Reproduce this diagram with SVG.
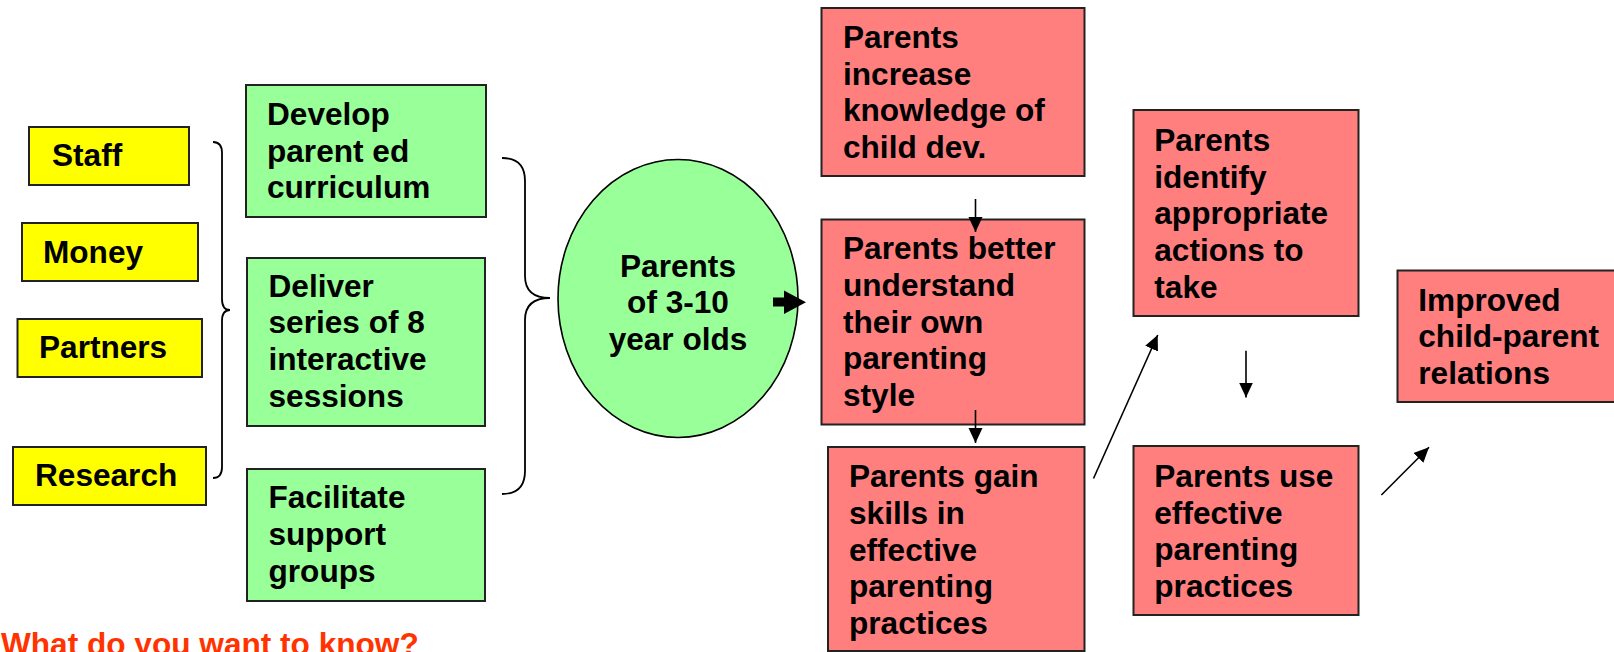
<svg xmlns="http://www.w3.org/2000/svg" width="1614" height="652" viewBox="0 0 1614 652">
<style>
.t{font-family:"Liberation Sans",Arial,sans-serif;font-weight:bold;font-size:31.6px;fill:#000}
.y{fill:#FFFF00;stroke:#222;stroke-width:2}
.g{fill:#99FF99;stroke:#222;stroke-width:2}
.r{fill:#FF7F7F;stroke:#222;stroke-width:2}
.ln{fill:none;stroke:#000;stroke-width:1.6}
.br{fill:none;stroke:#000;stroke-width:1.8}
</style>
<defs>
<marker id="ah" markerUnits="userSpaceOnUse" markerWidth="16" markerHeight="16" viewBox="0 0 16 14" refX="15" refY="7" orient="auto">
<path d="M0,0 L15,7 L0,14 Z" fill="#000"/>
</marker>
</defs>
<rect width="1614" height="652" fill="#fff"/>

<g id="staff"><rect class="y" x="29" y="127" width="160" height="58"/><text class="t" x="52" y="166">Staff</text></g>
<g id="money"><rect class="y" x="22" y="223" width="176" height="58"/><text class="t" x="43" y="263">Money</text></g>
<g id="partners"><rect class="y" x="17.5" y="319" width="184.5" height="58"/><text class="t" x="39" y="358">Partners</text></g>
<g id="research"><rect class="y" x="13" y="447" width="193" height="58"/><text class="t" x="35" y="486">Research</text></g>

<g id="develop"><rect class="g" x="246" y="85" width="240" height="132"/><text class="t" x="267" y="125">Develop<tspan x="267" y="161.7">parent ed</tspan><tspan x="267" y="198.3">curriculum</tspan></text></g>
<g id="deliver"><rect class="g" x="247" y="258" width="238" height="168"/><text class="t" x="268.5" y="296.7">Deliver<tspan x="268.5" y="333.3">series of 8</tspan><tspan x="268.5" y="370">interactive</tspan><tspan x="268.5" y="406.7">sessions</tspan></text></g>
<g id="facilitate"><rect class="g" x="247" y="469" width="238" height="132"/><text class="t" x="268.5" y="508.3">Facilitate<tspan x="268.5" y="545">support</tspan><tspan x="268.5" y="581.7">groups</tspan></text></g>

<g id="parents"><ellipse cx="678" cy="298.5" rx="120" ry="139" fill="#99FF99" stroke="#000" stroke-width="1.6"/><text class="t" text-anchor="middle" x="678" y="276.7">Parents<tspan x="678" y="313.3">of 3-10</tspan><tspan x="678" y="349.5">year olds</tspan></text></g>

<g id="knowledge"><rect class="r" x="821.5" y="8" width="263" height="168"/><text class="t" x="843" y="48.3">Parents<tspan x="843" y="84.5">increase</tspan><tspan x="843" y="121">knowledge of</tspan><tspan x="843" y="157.5">child dev.</tspan></text></g>
<g id="understand"><rect class="r" x="821.5" y="219.5" width="263" height="205"/><text class="t" x="843" y="259.3">Parents better<tspan x="843" y="296">understand</tspan><tspan x="843" y="332.7">their own</tspan><tspan x="843" y="369.3">parenting</tspan><tspan x="843" y="406">style</tspan></text></g>
<g id="skills"><rect class="r" x="828" y="447" width="256.5" height="204"/><text class="t" x="849" y="487.3">Parents gain<tspan x="849" y="524">skills in</tspan><tspan x="849" y="560.7">effective</tspan><tspan x="849" y="597.3">parenting</tspan><tspan x="849" y="634">practices</tspan></text></g>
<g id="identify"><rect class="r" x="1133.5" y="110" width="225" height="206"/><text class="t" x="1154.3" y="151">Parents<tspan x="1154.3" y="187.7">identify</tspan><tspan x="1154.3" y="224.3">appropriate</tspan><tspan x="1154.3" y="261">actions to</tspan><tspan x="1154.3" y="297.7">take</tspan></text></g>
<g id="use"><rect class="r" x="1133.5" y="446" width="225" height="169"/><text class="t" x="1154.3" y="487">Parents use<tspan x="1154.3" y="523.7">effective</tspan><tspan x="1154.3" y="560.3">parenting</tspan><tspan x="1154.3" y="597">practices</tspan></text></g>
<g id="improved"><rect class="r" x="1397.5" y="270.5" width="220" height="131.5"/><text class="t" x="1418.3" y="310.5">Improved<tspan x="1418.3" y="347.2">child-parent</tspan><tspan x="1418.3" y="383.9">relations</tspan></text></g>

<g id="question"><text class="t" x="1" y="654.5" style="fill:#FF3300">What do you want to know?</text></g>

<g id="connectors">
<path class="br" d="M213,142 Q222,142 222,153 L222,299 Q222,310 230,310 Q222,310 222,321 L222,467 Q222,478 213,478"/>
<path class="br" d="M502,158 Q525,158 525,181 L525,276 Q525,298 550,298 Q525,298 525,320 L525,471 Q525,494 502,494"/>
<path d="M773,297.5 L784,297.5 L784,290.5 L806,302.3 L784,314 L784,306.5 L773,306.5 Z" fill="#000"/>
<line class="ln" x1="975.5" y1="199" x2="975.5" y2="232" marker-end="url(#ah)"/>
<line class="ln" x1="975.5" y1="410" x2="975.5" y2="443" marker-end="url(#ah)"/>
<line class="ln" x1="1093.5" y1="478.5" x2="1157.7" y2="335" marker-end="url(#ah)"/>
<line class="ln" x1="1246" y1="350.7" x2="1246" y2="397.5" marker-end="url(#ah)"/>
<line class="ln" x1="1381.4" y1="495" x2="1429" y2="447.3" marker-end="url(#ah)"/>
</g>
</svg>
